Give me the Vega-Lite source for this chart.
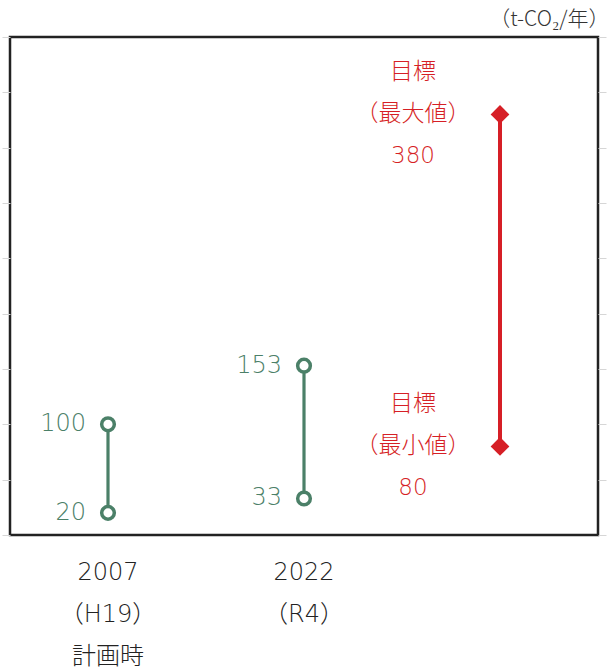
{
  "$schema": "https://vega.github.io/schema/vega-lite/v6.json",
  "width": 588,
  "height": 498,
  "autosize": {"type": "none"},
  "padding": {"left": 10, "top": 37, "right": 10, "bottom": 136},
  "background": "white",
  "title": {"text": "（t-CO₂/年）", "anchor": "end", "fontSize": 21, "font": "Noto Sans CJK JP", "fontWeight": 300, "color": "#333333", "offset": 7, "dx": 3},
  "config": {"view": {"stroke": "#222222", "strokeWidth": 2.5}, "font": "Noto Sans CJK JP"},
  "datasets": {
    "pts": [
      {"x": "2007|（H19）|計画時", "y": 20, "s": "実績", "lab": "20"},
      {"x": "2007|（H19）|計画時", "y": 100, "s": "実績", "lab": "100"},
      {"x": "2022|（R4）", "y": 33, "s": "実績", "lab": "33"},
      {"x": "2022|（R4）", "y": 153, "s": "実績", "lab": "153"},
      {"x": "目標", "y": 80, "s": "目標", "lab": "目標\n（最小値）\n80"},
      {"x": "目標", "y": 380, "s": "目標", "lab": "目標\n（最大値）\n380"}
    ],
    "rng": [
      {"x": "2007|（H19）|計画時", "lo": 20, "hi": 100, "s": "実績"},
      {"x": "2022|（R4）", "lo": 33, "hi": 153, "s": "実績"},
      {"x": "目標", "lo": 80, "hi": 380, "s": "目標"}
    ]
  },
  "layer": [
    {
      "layer": [
        {
          "data": {"name": "rng"},
          "mark": {"type": "rule"},
          "encoding": {
            "x": {"field": "x", "type": "nominal", "sort": null,
              "scale": {"domain": ["2007|（H19）|計画時", "2022|（R4）", "目標"], "paddingInner": 0, "paddingOuter": 0},
              "axis": {"title": null, "domain": false, "ticks": false, "labelAngle": 0,
                "labelExpr": "datum.value == '目標' ? '' : split(datum.value, '|')",
                "labelFontSize": 24, "labelFontWeight": 300, "labelColor": "#222222", "labelBaseline": "top", "labelPadding": 25, "labelLineHeight": 42, "labelFont": "DejaVu Sans, Noto Sans CJK JP"}},
            "y": {"field": "lo", "type": "quantitative", "scale": {"domain": [0, 450], "nice": false, "zero": true},
              "axis": {"orient": "left", "title": null, "values": [0, 50, 100, 150, 200, 250, 300, 350, 400, 450], "labels": false, "domain": false, "grid": false, "tickColor": "#d6d6d6", "tickSize": 8}},
            "y2": {"field": "hi"},
            "color": {"field": "s", "type": "nominal", "scale": {"domain": ["実績", "目標"], "range": ["#4b8068", "#d61f26"]}, "legend": null},
            "strokeWidth": {"field": "s", "type": "nominal", "scale": {"domain": ["実績", "目標"], "range": [3.2, 4]}, "legend": null}
          }
        },
        {
          "data": {"name": "pts"},
          "transform": [{"filter": "datum.s == '実績'"}],
          "mark": {"type": "point", "shape": "circle", "filled": true, "fill": "white", "stroke": "#4b8068", "strokeWidth": 3.5, "size": 160, "opacity": 1},
          "encoding": {
            "x": {"field": "x", "type": "nominal"},
            "y": {"field": "y", "type": "quantitative"}
          }
        },
        {
          "data": {"name": "pts"},
          "transform": [{"filter": "datum.s == '目標'"}],
          "mark": {"type": "point", "shape": "diamond", "filled": true, "fill": "#d61f26", "strokeWidth": 0, "size": 350, "opacity": 1},
          "encoding": {
            "x": {"field": "x", "type": "nominal"},
            "y": {"field": "y", "type": "quantitative"}
          }
        },
        {
          "data": {"name": "pts"},
          "transform": [{"filter": "datum.s == '実績'"}],
          "mark": {"type": "text", "align": "right", "baseline": "middle", "dx": -22, "fontSize": 24, "fontWeight": 300, "letterSpacing": 1.5, "color": "#4b8068", "font": "DejaVu Sans"},
          "encoding": {
            "x": {"field": "x", "type": "nominal"},
            "y": {"field": "y", "type": "quantitative"},
            "text": {"field": "lab", "type": "nominal"}
          }
        },
        {
          "data": {"name": "pts"},
          "transform": [{"filter": "datum.s == '目標'"}],
          "mark": {"type": "text", "align": "center", "baseline": "middle", "dx": -87, "dy": -42, "fontSize": 23, "fontWeight": 300, "color": "#d61f26", "lineBreak": "\n", "lineHeight": 42, "font": "DejaVu Sans, Noto Sans CJK JP"},
          "encoding": {
            "x": {"field": "x", "type": "nominal"},
            "y": {"field": "y", "type": "quantitative"},
            "text": {"field": "lab", "type": "nominal"}
          }
        }
      ]
    },
    {
      "data": {"name": "rng"},
      "mark": {"type": "rule", "opacity": 0},
      "encoding": {
        "x": {"field": "x", "type": "nominal"},
        "y": {"field": "lo", "type": "quantitative", "scale": {"domain": [0, 450], "nice": false},
          "axis": {"orient": "right", "title": null, "values": [0, 50, 100, 150, 200, 250, 300, 350, 400, 450], "labels": false, "domain": false, "grid": false, "tickColor": "#d6d6d6", "tickSize": 8}}
      }
    }
  ],
  "resolve": {"scale": {"y": "independent"}}
}
